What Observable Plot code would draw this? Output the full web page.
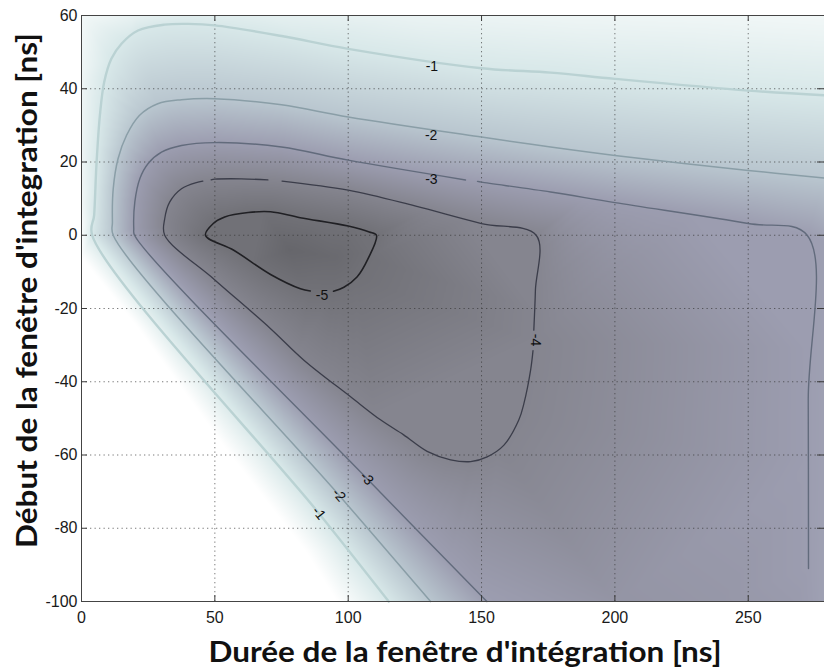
<!DOCTYPE html>
<html><head><meta charset="utf-8">
<script src="https://cdn.jsdelivr.net/npm/d3@7"></script>
<script src="https://cdn.jsdelivr.net/npm/@observablehq/plot@0.6"></script>
<style>
html,body{margin:0;padding:0;background:#fff;}
#chart{width:824px;height:670px;overflow:hidden;}
</style></head><body><div id="chart"></div>
<script>
// ---- axes ----
const xTicks = [0, 50, 100, 150, 200, 250];
const yTicks = [-100, -80, -60, -40, -20, 0, 20, 40, 60];
const xDomain = [0, 278.6];
const yDomain = [-100, 60];
const xTitle = "Durée de la fenêtre d'intégration [ns]";
const yTitle = "Début de la fenêtre d'integration [ns]";

// ---- contour lines (segments: gaps where the plot breaks them) ----
const contourM1 = [[
  [278.6,38.2],[250,39.5],[200,42.7],[175.9,44.4],[150,45.6],[100,50.9],[75,54.4],[50,57.3],
  [40,57.7],[31.2,57.5],[21.2,55.9],[15,52.3],[11.2,48.2],[8.5,41.8],[6.9,32.7],[5.6,19.1],
  [4.75,5.5],[4,0],[89,-75.9],[115.2,-100]
]];
const contourM2 = [[
  [278.6,15.6],[250,17.7],[200,21.8],[175.9,24.1],[150,26.8],[100,32.3],[75,35.6],[50,37.3],
  [37.5,37.0],[28.6,35.9],[21.7,32.7],[16.9,27.3],[13.7,20.9],[11.9,12.7],[11.6,3.6],[11.9,0],
  [96.5,-70.9],[130.9,-100]
]];
const contourM3 = [
  [[272.6,-91],[272.5,-45],[272.1,0],[250,3.2],[200,8.9],[175.9,11.8],[150,14.5],[148.5,14.7]],
  [[144,15.1],[100,20.5],[75,24.1],[50,25.3],[37.5,24.5],[30,22.7],[25,19.6],[21.9,15.5],
   [20,9.1],[19.6,1.8],[19.9,0],[107,-66.4],[152,-100]]
];
const contourM4 = [
  [[45.5,14.8],[43.7,14.5],[37.5,12.7],[33.1,9.1],[31.2,4.5],[31.2,0],[50,-12.2],[70.9,-25.5],
   [83.4,-34.1],[100.9,-44.1],[112.1,-50.4],[120.8,-54.5],[129.6,-59],[138.4,-61.3],[145.9,-61.8],
   [152.1,-60.5],[158.4,-57.3],[164,-50.4],[165.9,-45.9],[168.4,-36.8],[169.3,-31.5]],
  [[169.6,-25.9],[170.2,-15],[170.5,0],[150,3.2],[125,8.0],[100,12.3],[75.2,14.8]],
  [[69.9,15.1],[60,15.4],[50,15.3],[48.6,15.1]]
];
const contourM5 = [[
  [94.5,-15.3],[98.4,-14.2],[103.3,-11.4],[107.5,-6.3],[110.6,0],[107.9,0.9],[100,2.5],[82,4.8],
  [70.9,6.4],[62.5,6.2],[53.7,5],[49.4,3.2],[46.5,0],[57.1,-4.1],[70.9,-10.7],[82.1,-14.6],[85.8,-15.2]
]];
const contourLevels = [-1, -2, -3, -4, -5];
const contourSegments = [contourM1, contourM2, contourM3, contourM4, contourM5];
const contourStroke = ["#bad2d3", "#8a9ea7", "#626b7c", "#3b3d4a", "#202024"];
const contourWidth = [2.4, 1.5, 1.4, 1.3, 1.6];

// ---- contour labels ----
const labelText  = ["-1", "-2", "-3", "-5", "-4", "-1", "-2", "-3"];
const labelX     = [131.4, 131.1, 131.2, 90.2, 170.2, 89, 96.5, 107];
const labelY     = [46.2, 27.1, 15.3, -16.4, -28.6, -75.9, -70.9, -66.4];
const labelAngle = [0, 0, 0, 0, 90, 51, 49, 46];

// ---- extra shade values read from the background (x, y, value) ----
const shadeAnchors = [
  [0,60,-0.3],[20,60,-0.6],[40,60,-0.8],[70,60,-0.7],[120,60,-0.55],[180,60,-0.45],[240,60,-0.4],[278.6,60,-0.35],
  [0,45,-0.4],[0,25,-0.45],[0,10,-0.35],[0,2,-0.15],
  [0,-6,0],[20,-24,0],[37,-41,0],[54,-58,0],[70,-73,0],[84,-86,0],[96,-100,0],
  [0,-50,0],[0,-100,0],[45,-100,0],
  [200,-100,-3.35],[240,-100,-3.25],[268,-100,-3.1],[278.6,-100,-2.9],
  [278.6,-50,-2.92],[278.6,-2,-2.95],
  [78,-4,-5.45],[95,-6,-5.3]
];
const shadeLevels = [-5.5, -5, -4, -3, -2, -1, -0.5, 0];
const shadeColors = ["#65656a", "#717177", "#85858f", "#9c9db0", "#b9c6cf", "#d8e8e9", "#ecf4f4", "#ffffff"];

// ---- build tables ----
function densify(pts, step) {
  const out = [];
  for (let i = 0; i < pts.length - 1; i++) {
    const [x0, y0] = pts[i], [x1, y1] = pts[i + 1];
    const n = Math.max(1, Math.ceil(Math.hypot(x1 - x0, y1 - y0) / step));
    for (let k = 0; k < n; k++) out.push([x0 + (x1 - x0) * k / n, y0 + (y1 - y0) * k / n]);
  }
  out.push(pts[pts.length - 1]);
  return out;
}
const shadeSamples = [];
contourSegments.forEach((segs, i) => {
  densify(segs.flat(), 3).forEach(([x, y]) => shadeSamples.push({x, y, v: contourLevels[i]}));
});
shadeAnchors.forEach(([x, y, v]) => shadeSamples.push({x, y, v}));

const lineMarks = contourSegments.map((segs, i) => {
  const rows = [];
  segs.forEach((seg, s) => seg.forEach(([x, y]) => rows.push({x, y, s})));
  return Plot.line(rows, {x: "x", y: "y", z: "s", curve: "catmull-rom",
    stroke: contourStroke[i], strokeWidth: contourWidth[i]});
});

const labels = labelText.map((t, i) => ({t, x: labelX[i], y: labelY[i], a: labelAngle[i]}));

const W = 824, H = 670, mL = 81, mT = 15, mR = 0, mB = 69;
const fw = W - mL - mR, fh = H - mT - mB;
const gridStyle = {stroke: "#333", strokeOpacity: 0.65, strokeDasharray: "1.3,3.2", strokeWidth: 1};
const tickStyle = {stroke: "#3a3a3a", strokeWidth: 1};

const chart = Plot.plot({
  width: W, height: H,
  marginLeft: mL, marginTop: mT, marginRight: mR, marginBottom: mB,
  x: {domain: xDomain},
  y: {domain: yDomain},
  color: {type: "linear", domain: shadeLevels, range: shadeColors, clamp: true, interpolate: "rgb"},
  style: {fontFamily: "'Liberation Sans', Arial, sans-serif", background: "white", color: "#1a1a1a"},
  marks: [
    Plot.raster(shadeSamples, {x: "x", y: "y", fill: "v", interpolate: "barycentric",
      x1: xDomain[0], x2: xDomain[1], y1: yDomain[0], y2: yDomain[1]}),
    Plot.ruleX(xTicks.slice(1), gridStyle),
    Plot.ruleY(yTicks.slice(1, -1), gridStyle),
    ...lineMarks,
    Plot.text(labels, {x: "x", y: "y", text: "t", rotate: "a", fontSize: 14, fill: "#111"}),
    Plot.ruleX([xDomain[0]], {stroke: "#444"}),
    Plot.ruleY(yDomain, {stroke: "#444"}),
    Plot.tickX(xTicks.slice(1), {x: d => d, insetTop: fh - 6, ...tickStyle}),
    Plot.tickX(xTicks.slice(1), {x: d => d, insetBottom: fh - 6, ...tickStyle}),
    Plot.tickY(yTicks.slice(1, -1), {y: d => d, insetRight: fw - 6, ...tickStyle}),
    Plot.tickY(yTicks.slice(1, -1), {y: d => d, insetLeft: fw - 7, ...tickStyle}),
    Plot.axisX(xTicks, {tickSize: 0, tickPadding: 10, fontSize: 16, label: null, tickFormat: d => String(d)}),
    Plot.axisY(yTicks, {tickSize: 0, tickPadding: 4, fontSize: 16, label: null, tickFormat: d => String(d)}),
    Plot.text([xTitle], {frameAnchor: "bottom", textAnchor: "middle", lineAnchor: "middle", dx: 12, dy: 52,
      fontSize: 28, fontWeight: "bold", fontFamily: "Lato, 'Open Sans', sans-serif", fill: "#111"}),
    Plot.text([yTitle], {frameAnchor: "left", textAnchor: "middle", lineAnchor: "middle", dx: -53, dy: -18,
      rotate: -90, fontSize: 28, fontWeight: "bold", fontFamily: "Lato, 'Open Sans', sans-serif", fill: "#111"})
  ]
});
document.getElementById("chart").appendChild(chart);
Array.from(chart.querySelectorAll("text")).forEach(t => {
  if (t.textContent === xTitle) { t.setAttribute("textLength", 513); t.setAttribute("lengthAdjust", "spacingAndGlyphs"); }
  if (t.textContent === yTitle) { t.setAttribute("textLength", 515); t.setAttribute("lengthAdjust", "spacingAndGlyphs"); }
});
</script></body></html>
